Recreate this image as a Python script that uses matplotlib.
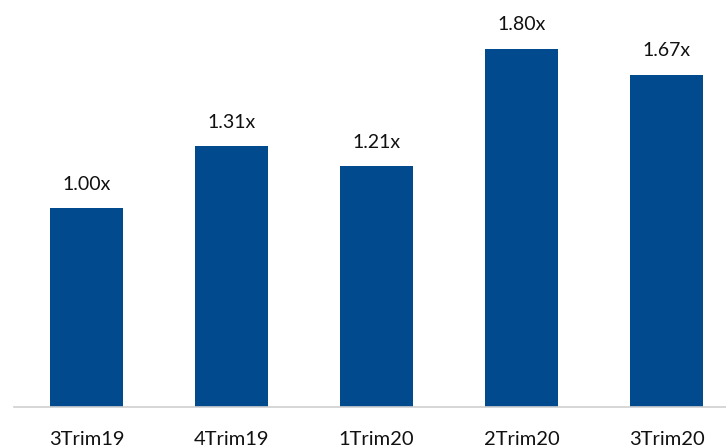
import matplotlib
matplotlib.use("Agg")
import matplotlib.pyplot as plt

periods = ["3Trim19", "4Trim19", "1Trim20", "2Trim20", "3Trim20"]
multiples = [1.00, 1.31, 1.21, 1.80, 1.67]

plt.rcParams['font.family'] = ['Lato', 'DejaVu Sans']

fig = plt.figure(figsize=(7.26, 4.48), dpi=100)
ax = fig.add_axes([14 / 726, 1 - 407 / 448, 1 - 14 / 726, 407 / 448])

x = range(len(periods))
bars = ax.bar(x, multiples, width=0.5, color="#004A8D")

for rect, v in zip(bars, multiples):
    ax.annotate(f"{v:.2f}x", (rect.get_x() + rect.get_width() / 2, v),
                xytext=(0, 11), textcoords="offset points",
                ha="center", va="bottom", fontsize=14, color="#111111")

ax.set_xlim(-0.5, 4.41)
ax.set_ylim(0, 2.045)
ax.set_xticks(list(x))
ax.set_xticklabels(periods, fontsize=14.5, color="#111111")
ax.tick_params(axis="x", length=0, pad=17)
ax.set_yticks([])
for s in ["top", "right", "left"]:
    ax.spines[s].set_visible(False)
ax.spines["bottom"].set_color("#D0D0D0")
ax.spines["bottom"].set_linewidth(1.2)

fig.savefig("out.png", dpi=100)
